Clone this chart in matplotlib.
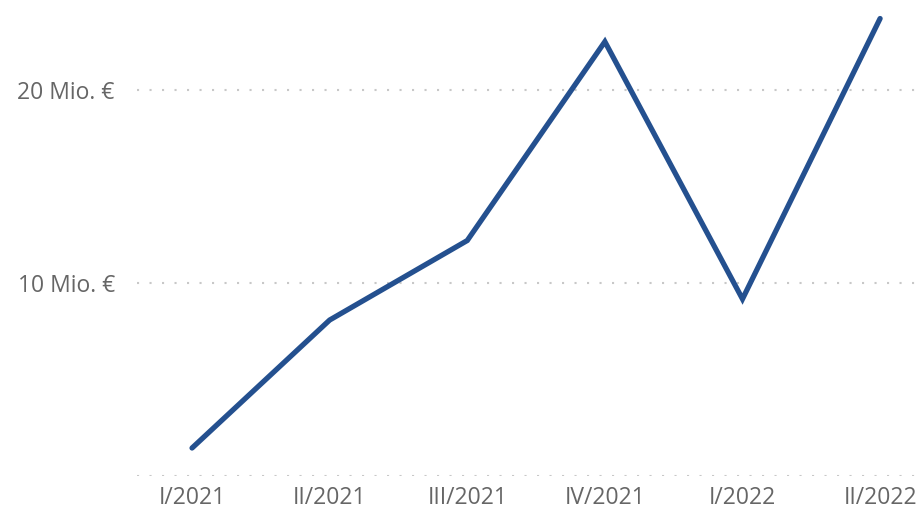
import matplotlib
matplotlib.use('Agg')

import matplotlib.pyplot as plt
from matplotlib.ticker import FixedLocator

# Quarterly values in Mio. €
quarters = ["I/2021", "II/2021", "III/2021", "IV/2021", "I/2022", "II/2022"]
values = [1.45, 8.08, 12.2, 22.5, 9.17, 23.7]
y_ticks = [0, 10, 20]
y_labels = ["", "10 Mio. €", "20 Mio. €"]

plt.rcParams['font.family'] = ['Open Sans', 'DejaVu Sans']
plt.rcParams['lines.scale_dashes'] = False

fig = plt.figure(figsize=(9.2, 5.13), dpi=100)
ax = fig.add_axes([137 / 920, 37 / 513, 783 / 920, 476 / 513])

x = list(range(len(quarters)))
ax.plot(x, values, color='#24508f', linewidth=3.8, solid_capstyle='round',
        solid_joinstyle='miter', clip_on=False, zorder=3)

ax.set_xlim(-0.4, 5.29)
ax.set_ylim(0, 24.66)

ax.yaxis.set_major_locator(FixedLocator(y_ticks))
ax.set_yticklabels(y_labels)
ax.set_xticks(x)
ax.set_xticklabels(quarters)

ax.grid(axis='y', color='#c8c8c8', linewidth=1.5, linestyle=(0, (1.5, 7.5)))
ax.tick_params(axis='both', length=0, labelsize=16.5, labelcolor='#666666')
ax.tick_params(axis='y', pad=16)
ax.tick_params(axis='x', pad=7)

for s in ax.spines.values():
    s.set_visible(False)

fig.savefig('out.png', dpi=100)
